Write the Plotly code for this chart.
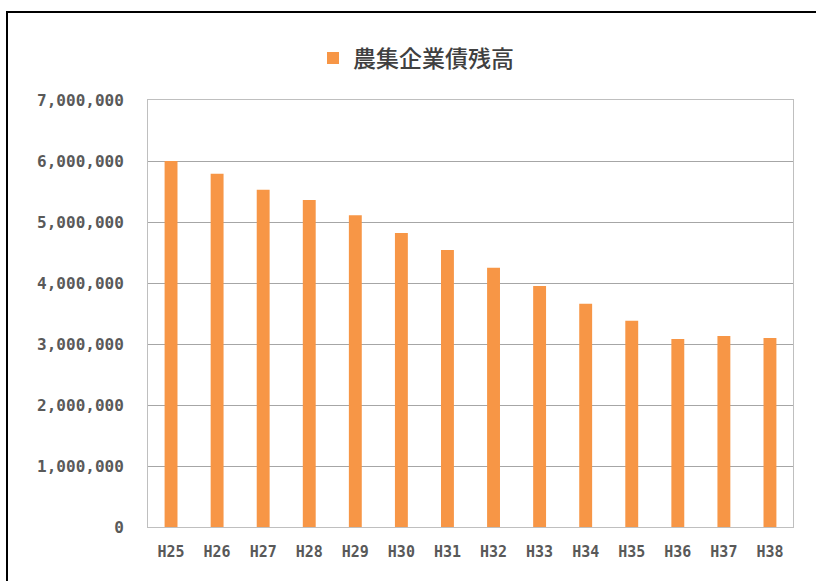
import plotly.graph_objects as go

categories = ["H25", "H26", "H27", "H28", "H29", "H30", "H31",
              "H32", "H33", "H34", "H35", "H36", "H37", "H38"]
values = [6000000, 5790000, 5530000, 5360000, 5110000, 4820000, 4540000,
          4250000, 3950000, 3660000, 3380000, 3080000, 3130000, 3100000]
series_name = "農集企業債残高"
y_ticks = [0, 1000000, 2000000, 3000000, 4000000, 5000000, 6000000, 7000000]
y_tick_text = ["0", "1,000,000", "2,000,000", "3,000,000", "4,000,000",
               "5,000,000", "6,000,000", "7,000,000"]

W, H = 816, 581
ML, MR, MT, MB = 148, 23, 100, 54
PW, PH = W - ML - MR, H - MT - MB

fig = go.Figure(go.Bar(
    x=categories, y=values, name=series_name,
    marker=dict(color="#F79646", line=dict(width=0)),
    showlegend=True,
))

def px_x(p):
    return (p - ML) / PW

def px_y(p):
    return (H - MB - p) / PH

tick_font = dict(family="DejaVu Sans Mono, monospace", size=16,
                 color="#595959", weight="bold")

fig.update_layout(
    width=W, height=H,
    margin=dict(l=ML, r=MR, t=MT, b=MB),
    paper_bgcolor="white", plot_bgcolor="white",
    bargap=0.72,
    font=dict(family="DejaVu Sans Mono, monospace", color="#595959"),
    legend=dict(
        orientation="h", x=px_x(313), y=px_y(58),
        xanchor="left", yanchor="middle",
        font=dict(family="Noto Sans CJK JP", size=23, color="#404040",
                  weight=500),
        itemwidth=30,
    ),
    xaxis=dict(
        showline=True, linecolor="#BFBFBF", linewidth=1, mirror=True,
        tickfont=dict(tick_font, size=15),
        ticks="", ticklabelstandoff=11,
    ),
    yaxis=dict(
        range=[0, 7000000], tickvals=y_ticks, ticktext=y_tick_text,
        showgrid=True, gridcolor="#A6A6A6", gridwidth=1,
        showline=True, linecolor="#BFBFBF", linewidth=1, mirror=True,
        zeroline=False,
        tickfont=tick_font,
        ticks="", ticklabelstandoff=20,
    ),
    shapes=[dict(
        type="rect", xref="paper", yref="paper",
        x0=px_x(7), x1=px_x(830), y0=px_y(600), y1=px_y(12),
        line=dict(color="black", width=2), fillcolor="rgba(0,0,0,0)",
        layer="above",
    )],
)

fig.write_html("out.html")
